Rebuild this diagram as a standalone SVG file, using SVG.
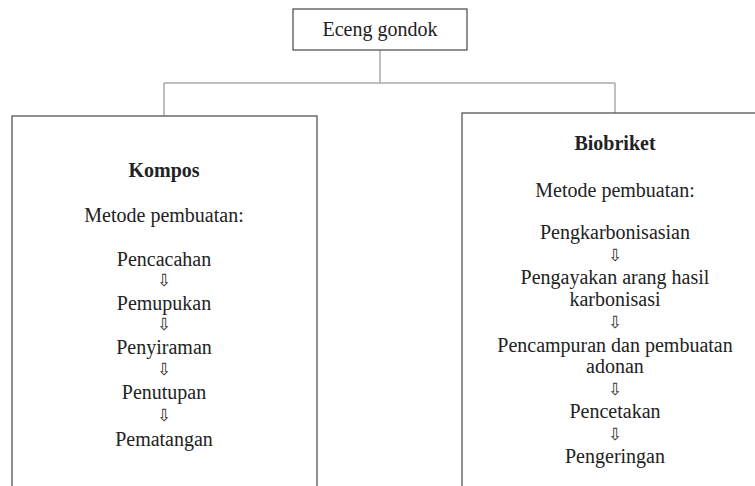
<svg xmlns="http://www.w3.org/2000/svg" width="755" height="486" viewBox="0 0 755 486">
<style>
.box{fill:#fff;stroke:#555;stroke-width:1.3}
.con{fill:none;stroke:#aaa;stroke-width:1.5}
.t{font-family:"Liberation Serif","Times New Roman",serif;font-size:20px;fill:#222;text-anchor:middle}
.b{font-weight:bold}
.ar{font-family:"DejaVu Sans","DejaVu Sans Mono",sans-serif;font-size:17px;fill:#333;text-anchor:middle}
</style>
<rect width="755" height="486" fill="#fff"/>
<g id="connectors">
<path class="con" d="M380 50 V83 M164 83 H615 M164 83 V116 M615 83 V113"/>
</g>
<g id="eceng">
<rect class="box" x="293" y="9" width="174" height="41"/>
<text class="t" x="380" y="36">Eceng gondok</text>
</g>
<g id="kompos">
<rect class="box" x="12" y="116" width="305" height="380"/>
<text class="t b" x="164" y="177">Kompos</text>
<text class="t" x="164" y="222">Metode pembuatan:</text>
<text class="t" x="164" y="266">Pencacahan</text>
<text class="ar" x="164" y="286">⇩&#xFE0E;</text>
<text class="t" x="164" y="310">Pemupukan</text>
<text class="ar" x="164" y="330">⇩&#xFE0E;</text>
<text class="t" x="164" y="354">Penyiraman</text>
<text class="ar" x="164" y="375">⇩&#xFE0E;</text>
<text class="t" x="164" y="399">Penutupan</text>
<text class="ar" x="164" y="421">⇩&#xFE0E;</text>
<text class="t" x="164" y="446">Pematangan</text>
</g>
<g id="biobriket">
<rect class="box" x="462" y="113" width="310" height="380"/>
<text class="t b" x="615" y="150">Biobriket</text>
<text class="t" x="615" y="197">Metode pembuatan:</text>
<text class="t" x="615" y="239">Pengkarbonisasian</text>
<text class="ar" x="615" y="261">⇩&#xFE0E;</text>
<text class="t" x="615" y="284">Pengayakan arang hasil</text>
<text class="t" x="615" y="306">karbonisasi</text>
<text class="ar" x="615" y="328">⇩&#xFE0E;</text>
<text class="t" x="615" y="352">Pencampuran dan pembuatan</text>
<text class="t" x="615" y="373">adonan</text>
<text class="ar" x="615" y="395">⇩&#xFE0E;</text>
<text class="t" x="615" y="418">Pencetakan</text>
<text class="ar" x="615" y="440">⇩&#xFE0E;</text>
<text class="t" x="615" y="463">Pengeringan</text>
</g>
</svg>
